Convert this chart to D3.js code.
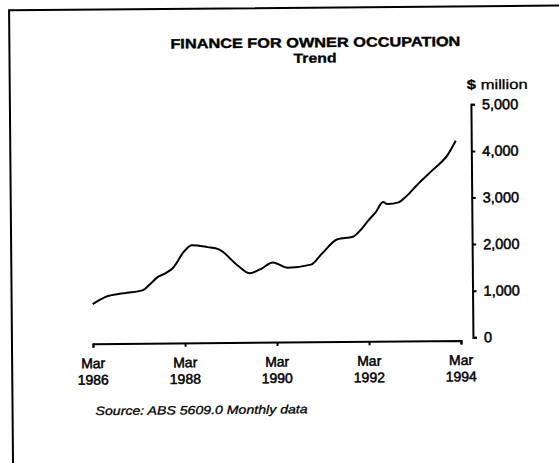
<!DOCTYPE html>
<html>
<head>
<meta charset="utf-8">
<script src="https://cdn.jsdelivr.net/npm/d3@7"></script>
<style>
  body { margin: 0; background: #fff; }
  svg { display: block; }
  text { font-family: "Liberation Sans", Arial, Helvetica, sans-serif; fill: #000; }
</style>
</head>
<body>
<svg id="svg_finance" width="559" height="463"></svg>
<script>
// Finance for owner occupation, trend, $ million
const months = ["1986-03", "1986-07", "1986-10", "1986-12", "1987-04", "1987-06", "1987-08", "1987-10", "1987-12",
                "1988-03", "1988-05", "1988-09", "1988-12", "1989-05", "1989-08", "1989-11", "1990-02",
                "1990-06", "1990-12", "1991-03", "1991-07", "1991-11", "1992-01", "1992-03", "1992-05",
                "1992-07", "1992-08", "1992-11", "1993-01", "1993-04", "1993-08", "1993-12", "1994-02"];
const values = [785, 955, 1000, 1020, 1070, 1200, 1350, 1430, 1545,
                1900, 2030, 1985, 1935, 1580, 1415, 1510, 1645,
                1530, 1590, 1830, 2130, 2180, 2320, 2520, 2700,
                2920, 2875, 2910, 3040, 3290, 3600, 3930, 4220];

const xTickYears = [1986, 1988, 1990, 1992, 1994];
const yTicks = [0, 1000, 2000, 3000, 4000, 5000];

const titleText = "FINANCE FOR OWNER OCCUPATION";
const subtitleText = "Trend";
const unitText = "million";
const sourceText = "Source: ABS 5609.0 Monthly data";

const parseMonth = d3.timeParse("%Y-%m");
const data = months.map((m, i) => ({ date: parseMonth(m), value: values[i] }));

let svg = d3.select('#svg_finance');

// the printed page is scanned a touch crooked
let page = svg.append('g').attr('transform', 'rotate(-0.5, 280, 230)');

// frame
page.append('path')
    .attr('d', 'M11,480 L11,8 L580,8')
    .attr('fill', 'none')
    .attr('stroke', '#000')
    .attr('stroke-width', 2);

// Scales
let xScale = d3.scaleTime()
               .domain([new Date(1986, 2, 1), new Date(1994, 2, 1)])
               .range([92, 460]);

let yScale = d3.scaleLinear()
               .domain([0, 5000])
               .range([339, 106]);

// x axis
let xAxis = d3.axisBottom(xScale)
              .tickValues(xTickYears.map(y => new Date(y, 2, 1)))
              .tickSize(4)
              .tickSizeOuter(4)
              .tickFormat('');

let gx = page.append('g')
             .attr('transform', `translate(0, ${342})`)
             .call(xAxis);
gx.select('.domain').attr('stroke-width', 2);
gx.selectAll('.tick line').attr('stroke-width', 2);

let xLabels = page.append('g');
xTickYears.forEach(y => {
    let x = xScale(new Date(y, 2, 1));
    xLabels.append('text')
           .attr('x', x).attr('y', 366.5)
           .attr('text-anchor', 'middle')
           .attr('font-size', 14)
           .attr('stroke', '#000').attr('stroke-width', 0.5)
           .text('Mar');
    xLabels.append('text')
           .attr('x', x).attr('y', 383)
           .attr('text-anchor', 'middle')
           .attr('font-size', 14)
           .attr('stroke', '#000').attr('stroke-width', 0.5)
           .text(y);
});

// y axis on the right
let yAxis = d3.axisRight(yScale)
              .tickValues(yTicks)
              .tickSize(4)
              .tickSizeOuter(4)
              .tickPadding(7)
              .tickFormat(d3.format(','));

let gy = page.append('g')
             .attr('transform', `translate(${472}, 0)`)
             .call(yAxis);
gy.select('.domain').attr('stroke-width', 2);
gy.selectAll('.tick line').attr('stroke-width', 2);
gy.selectAll('.tick text')
  .attr('font-size', 14.5)
  .attr('font-family', '"Liberation Sans", Arial, sans-serif')
  .attr('fill', '#000')
  .attr('stroke', '#000').attr('stroke-width', 0.5);

// unit label
let unit = page.append('text')
               .attr('x', 468).attr('y', 91)
               .attr('font-size', 13.5)
               .attr('textLength', 61)
               .attr('lengthAdjust', 'spacingAndGlyphs')
               .attr('stroke', '#000').attr('stroke-width', 0.3);
unit.append('tspan').attr('font-weight', 'bold').text('$ ');
unit.append('tspan').text(unitText);

// titles
page.append('text')
    .attr('x', 317).attr('y', 47.5)
    .attr('text-anchor', 'middle')
    .attr('font-size', 13.5)
    .attr('font-weight', 'bold')
    .attr('textLength', 290)
    .attr('lengthAdjust', 'spacingAndGlyphs')
    .attr('stroke', '#000').attr('stroke-width', 0.4)
    .text(titleText);

page.append('text')
    .attr('x', 316.5).attr('y', 63)
    .attr('text-anchor', 'middle')
    .attr('font-size', 13.5)
    .attr('font-weight', 'bold')
    .attr('textLength', 43)
    .attr('lengthAdjust', 'spacingAndGlyphs')
    .attr('stroke', '#000').attr('stroke-width', 0.3)
    .text(subtitleText);

// the trend line
let line = d3.line()
             .x(d => xScale(d.date))
             .y(d => yScale(d.value))
             .curve(d3.curveMonotoneX);

page.append('path')
    .datum(data)
    .attr('d', line)
    .attr('fill', 'none')
    .attr('stroke', '#000')
    .attr('stroke-width', 2)
    .attr('stroke-linejoin', 'round');

// source note
page.append('text')
    .attr('x', 94).attr('y', 413.5)
    .attr('font-size', 12)
    .attr('font-style', 'italic')
    .attr('textLength', 212)
    .attr('lengthAdjust', 'spacingAndGlyphs')
    .attr('stroke', '#000').attr('stroke-width', 0.3)
    .text(sourceText);
</script>
</body>
</html>
